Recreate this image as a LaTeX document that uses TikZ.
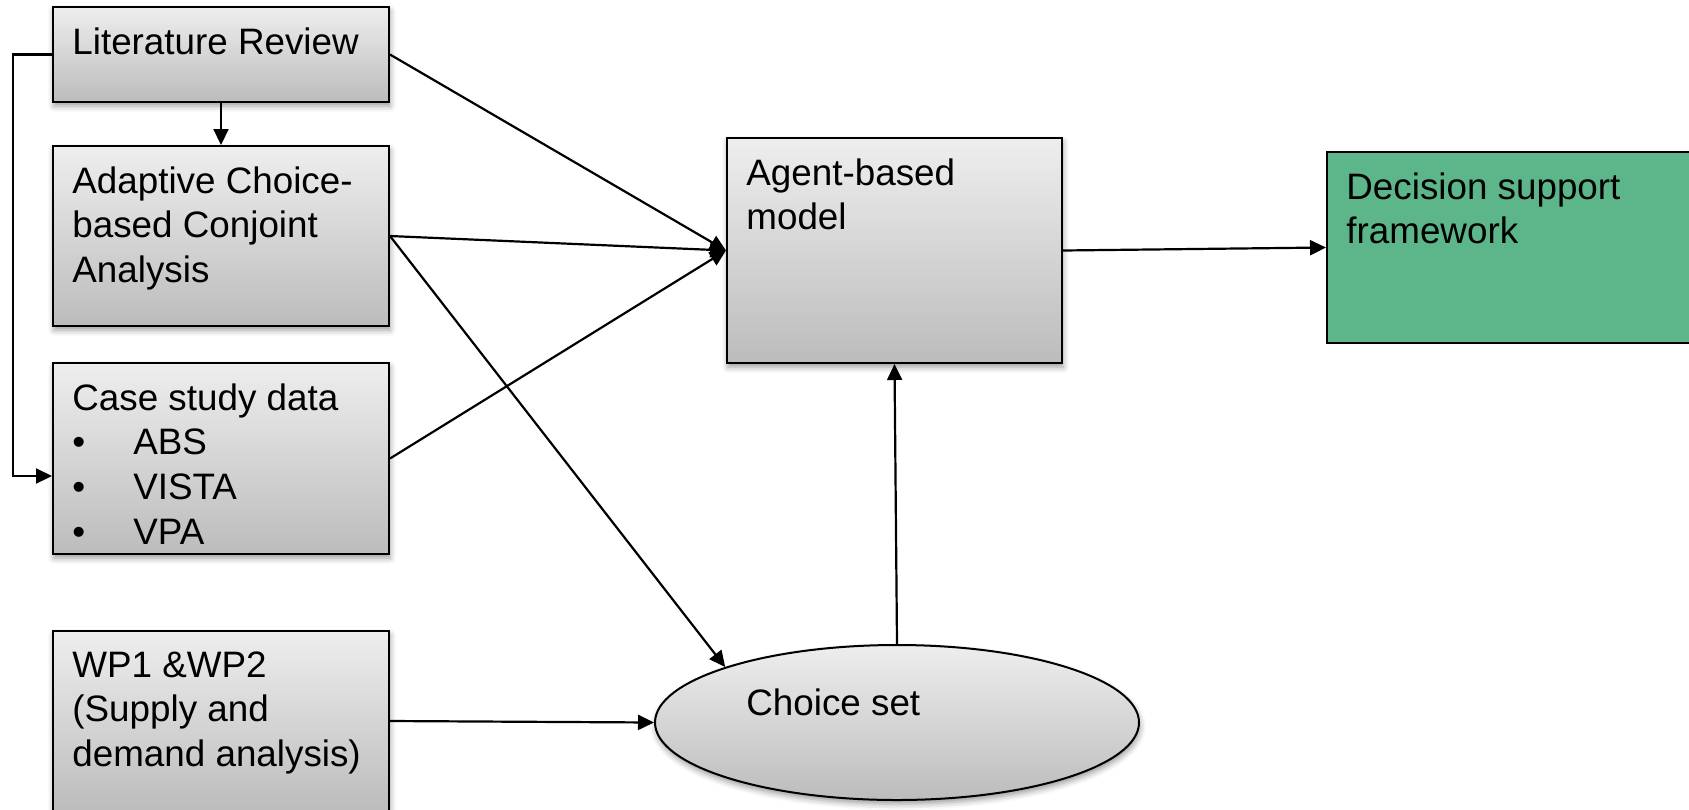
\documentclass[tikz,border=0pt]{standalone}
\usepackage{fontspec}
\setmainfont{Liberation Sans}
\usetikzlibrary{arrows.meta,shapes.geometric,shadows.blur}

\definecolor{boxtop}{RGB}{238,238,238}
\definecolor{boxbottom}{RGB}{188,188,188}
\definecolor{dssgreen}{RGB}{93,182,138}
\newcommand{\itemdot}{\makebox[30.5pt][l]{\textbullet}}

\tikzset{
    greybox/.style={rectangle, draw=black, line width=1pt, anchor=north west, inner sep=0pt,
        top color=boxtop, bottom color=boxbottom,
        blur shadow={shadow xshift=0.5pt, shadow yshift=-2pt, shadow blur radius=3pt, shadow opacity=40}},
    boxtext/.style={anchor=north west, align=left, inner xsep=10pt, inner ysep=10.5pt,
        font=\fontsize{18.4}{22.4}\selectfont},
    arr/.style={line width=1.1pt, -{Triangle[length=8pt,width=7.5pt]}}
}

\begin{document}
\begin{tikzpicture}[x=0.5pt, y=-0.5pt]
    \useasboundingbox (0,0) rectangle (1689,809);

    % inputs, left column
    \node[greybox, minimum width=168pt, minimum height=47.5pt,
        label={[boxtext]north west:Literature Review}] (lit) at (52,6) {};
    \node[greybox, minimum width=168pt, minimum height=90pt,
        label={[boxtext]north west:Adaptive Choice-\\based Conjoint\\Analysis}] (acbc) at (52,145) {};
    \node[greybox, minimum width=168pt, minimum height=95.5pt,
        label={[boxtext]north west:Case study data\\\itemdot ABS\\\itemdot VISTA\\\itemdot VPA}] (case) at (52,362) {};
    \node[greybox, minimum width=168pt, minimum height=90pt,
        label={[boxtext]north west:WP1 \&WP2\\(Supply and\\demand analysis)}] (wp) at (52,630) {};

    % model and output
    \node[greybox, minimum width=167.5pt, minimum height=112.5pt,
        label={[boxtext]north west:Agent-based\\model}] (abm) at (726,137) {};
    \node[rectangle, draw=black, line width=1pt, fill=dssgreen, anchor=north west, inner sep=0pt,
        minimum width=200pt, minimum height=95.5pt,
        label={[boxtext]north west:Decision support\\framework}] (dss) at (1326,151) {};

    \node[ellipse, draw=black, line width=1pt, inner sep=0pt, top color=boxtop, bottom color=boxbottom,
        blur shadow={shadow xshift=0.5pt, shadow yshift=-2pt, shadow blur radius=3pt, shadow opacity=40},
        minimum width=242pt, minimum height=77.5pt] (choice) at (897,722.5) {};
    \node[boxtext, anchor=base west, inner sep=0pt] (choicetext)
        at ([xshift=-75.5pt,yshift=3.75pt]choice.center) {Choice set};

    % connectors
    \draw[arr] (lit.south) -- (acbc.north);
    \draw[arr] (lit.west) -- ++(-39,0) |- ([yshift=-8.75pt]case.west);
    \foreach \src in {lit,acbc,case}
        \draw[arr] (\src.east) -- (abm.west);
    \draw[arr] (acbc.east) -- (choice.north west);
    \draw[arr] (wp.east) -- (choice.west);
    \draw[arr] (choice.north) -- (abm.south);
    \draw[arr] (abm.east) -- (dss.west);
\end{tikzpicture}
\end{document}
